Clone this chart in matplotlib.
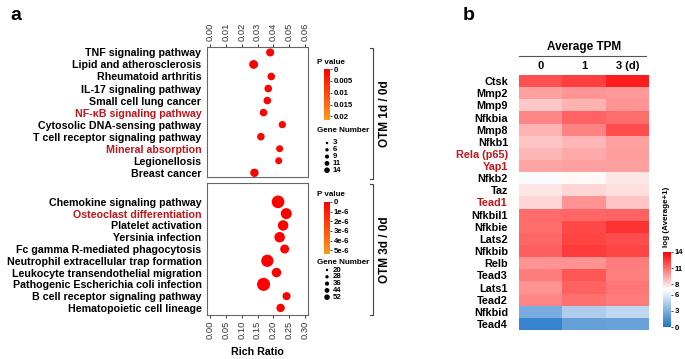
import numpy as np
import matplotlib.pyplot as plt
from matplotlib.colors import LinearSegmentedColormap, Normalize
import matplotlib as mpl

plt.rcParams['font.family'] = ['Liberation Sans', 'DejaVu Sans']
plt.rcParams['font.weight'] = 'bold'

RED_TXT = '#c3151c'

# --- panel a: KEGG enrichment, OTM 1d / 0d ---
top_terms = ['TNF signaling pathway', 'Lipid and atherosclerosis', 'Rheumatoid arthritis',
             'IL-17 signaling pathway', 'Small cell lung cancer', 'NF-κB signaling pathway',
             'Cytosolic DNA-sensing pathway', 'T cell receptor signaling pathway',
             'Mineral absorption', 'Legionellosis', 'Breast cancer']
top_ratio = [0.038, 0.0275, 0.0387, 0.0368, 0.0362, 0.0338, 0.0457, 0.0321, 0.0440, 0.0434, 0.0280]
top_genes = [11, 14, 9, 9, 9, 9, 8, 9, 7, 7, 12]
top_pval = [2e-4, 1e-4, 5e-4, 3e-4, 4e-4, 3e-4, 6e-4, 5e-4, 8e-4, 7e-4, 4e-4]
top_red = ['NF-κB signaling pathway', 'Mineral absorption']
top_p_ticks = [0, 0.005, 0.01, 0.015, 0.02]
top_p_labels = ['0', '0.005', '0.01', '0.015', '0.02']
top_gene_legend = [3, 6, 9, 11, 14]

# --- panel a: KEGG enrichment, OTM 3d / 0d ---
bot_terms = ['Chemokine signaling pathway', 'Osteoclast differentiation', 'Platelet activation',
             'Yersinia infection', 'Fc gamma R-mediated phagocytosis',
             'Neutrophil extracellular trap formation', 'Leukocyte transendothelial migration',
             'Pathogenic Escherichia coli infection', 'B cell receptor signaling pathway',
             'Hematopoietic cell lineage']
bot_ratio = [0.215, 0.241, 0.231, 0.220, 0.236, 0.181, 0.210, 0.169, 0.242, 0.223]
bot_genes = [52, 44, 42, 42, 36, 50, 38, 54, 33, 34]
bot_pval = [1e-9, 1e-9, 2e-9, 2e-9, 3e-9, 2e-9, 4e-9, 1e-9, 5e-9, 5e-9]
bot_red = ['Osteoclast differentiation']
bot_p_ticks = [0, 1e-6, 2e-6, 3e-6, 4e-6, 5e-6]
bot_p_labels = ['0', '1e-6', '2e-6', '3e-6', '4e-6', '5e-6']
bot_gene_legend = [20, 28, 36, 44, 52]

# --- panel b: heatmap log(Average TPM + 1) ---
genes = ['Ctsk', 'Mmp2', 'Mmp9', 'Nfkbia', 'Mmp8', 'Nfkb1', 'Rela (p65)', 'Yap1', 'Nfkb2',
         'Taz', 'Tead1', 'Nfkbil1', 'Nfkbie', 'Lats2', 'Nfkbib', 'Relb', 'Tead3', 'Lats1',
         'Tead2', 'Nfkbid', 'Tead4']
days = ['0', '1', '3 (d)']
day0 = [11.8, 9.6, 8.5, 10.3, 9.1, 8.6, 9.0, 9.5, 6.8, 7.7, 8.1, 11.0, 11.0, 11.2, 11.4,
        10.0, 10.6, 10.0, 10.3, 2.8, 0.8]
day1 = [12.3, 9.9, 9.1, 11.3, 10.4, 9.0, 9.3, 9.6, 7.2, 8.1, 10.0, 11.2, 12.0, 12.1, 12.4,
        10.0, 11.6, 11.3, 10.9, 4.5, 2.2]
day3 = [13.2, 9.8, 9.9, 11.0, 11.9, 9.6, 9.7, 9.6, 7.7, 7.9, 8.6, 11.3, 12.6, 11.9, 12.1,
        10.6, 10.5, 10.8, 10.6, 5.0, 2.3]
heat_red = ['Rela (p65)', 'Yap1', 'Tead1']
heat_ticks = [0, 3, 6, 8, 11, 14]

W, H = 685, 359
fig = plt.figure(figsize=(W / 100, H / 100), dpi=100)

def frac(x0, y0, x1, y1):
    return [x0 / W, 1 - y1 / H, (x1 - x0) / W, (y1 - y0) / H]

# overlay in pixel coordinates for annotations
ov = fig.add_axes([0, 0, 1, 1])
ov.set_xlim(0, W)
ov.set_ylim(H, 0)
ov.axis('off')

p_cmap = LinearSegmentedColormap.from_list('pv', ['#ff0000', '#ff9a1c'])

def dot_panel(rect, terms, ratio, genes_n, pval, red, xmax, xticks, pmax, size_fn, on_top):
    ax = fig.add_axes(rect)
    y = np.arange(len(terms))
    ax.scatter(ratio, y, s=[size_fn(g) for g in genes_n], c=pval, cmap=p_cmap,
               vmin=0, vmax=pmax, edgecolors='none', zorder=3)
    ax.set_xlim(-0.002 * xmax / 0.06, xmax)
    ax.set_yticks(y)
    ax.set_yticklabels(terms, fontsize=7.7)
    for lab in ax.get_yticklabels():
        if lab.get_text() in red:
            lab.set_color(RED_TXT)
    ax.tick_params(axis='y', length=0, pad=4)
    ax.set_xticks(xticks)
    ax.set_xticklabels([f'{t:.2f}' for t in xticks], rotation=90, fontsize=6.7,
                       fontweight='normal')
    if on_top:
        ax.xaxis.tick_top()
    ax.tick_params(axis='x', length=2.5, width=0.7, pad=1.5, colors='#333333')
    for sp in ax.spines.values():
        sp.set_color('#666666')
        sp.set_linewidth(0.8)
    return ax

ax1 = dot_panel(frac(207, 47, 308, 177), top_terms, top_ratio, top_genes, top_pval, top_red,
                0.062, np.arange(0, 0.061, 0.01), 0.0215, lambda g: 10 + 2.2 * g, True)
ax1.set_ylim(10.35, -0.45)

ax2 = dot_panel(frac(207, 183, 308, 315), bot_terms, bot_ratio, bot_genes, bot_pval, bot_red,
                0.31, np.arange(0, 0.301, 0.05), 5.4e-6, lambda g: 2.6 * g - 52, False)
ax2.set_ylim(9.6, -1.6)
ax2.set_xlabel('Rich Ratio', fontsize=7.7, fontweight='bold', labelpad=6)

# P value colour bars
def p_bar(rect, pmax, ticks, labels):
    cax = fig.add_axes(rect)
    cb = mpl.colorbar.ColorbarBase(cax, cmap=p_cmap, norm=Normalize(0, pmax))
    cb.outline.set_visible(False)
    cb.set_ticks(ticks)
    cb.set_ticklabels(labels)
    cax.invert_yaxis()
    cax.tick_params(length=1.5, width=0.5, pad=1, labelsize=5.6)

p_bar(frac(324, 69, 330, 120), 0.0215, top_p_ticks, top_p_labels)
p_bar(frac(324, 202, 330, 254), 5.4e-6, bot_p_ticks, bot_p_labels)

ov.text(317, 63, 'P value', fontsize=5.8, va='center')
ov.text(317, 130, 'Gene Number', fontsize=5.8, va='center')
ov.text(317, 194, 'P value', fontsize=5.8, va='center')
ov.text(317, 262, 'Gene Number', fontsize=5.8, va='center')

def gene_legend(values, y0, sizes):
    for i, (v, s) in enumerate(zip(values, sizes)):
        yy = y0 + i * 6.8
        ov.scatter([327], [yy], s=s, color='black', edgecolors='none')
        ov.text(333, yy, str(v), fontsize=5.6, va='center')

gene_legend(top_gene_legend, 143, [3, 6, 9, 12, 16])
gene_legend(bot_gene_legend, 270, [3, 6, 9, 12, 16])

# brackets with comparison labels
for y0, y1, lab in [(48, 179, 'OTM 1d / 0d'), (184, 315, 'OTM 3d / 0d')]:
    ov.plot([370, 373, 373, 370], [y0, y0, y1, y1], color='#444444', lw=0.8)
    ov.text(385, (y0 + y1) / 2, lab, rotation=90, fontsize=8.5, ha='center', va='center')

# panel letters
ov.text(10, 16, 'a', fontsize=14, va='center')
ov.text(463, 16, 'b', fontsize=14, va='center')

# --- heatmap ---
axh = fig.add_axes(frac(519, 75, 649, 330))
heat_cmap = LinearSegmentedColormap.from_list('hm', [(0, '#1f74c8'), (0.5, '#ffffff'),
                                                     (1, '#ff0000')])
mat = np.column_stack([day0, day1, day3])
mesh = axh.pcolormesh(mat, cmap=heat_cmap, vmin=0, vmax=14, edgecolors='none')
axh.set_ylim(len(genes), 0)
axh.set_yticks(np.arange(len(genes)) + 0.5)
axh.set_yticklabels(genes, fontsize=7.8)
for lab in axh.get_yticklabels():
    if lab.get_text() in heat_red:
        lab.set_color(RED_TXT)
axh.set_xticks(np.arange(3) + 0.5)
axh.set_xticklabels(days, fontsize=8)
axh.xaxis.tick_top()
axh.tick_params(length=0)
axh.tick_params(axis='y', pad=8)
axh.tick_params(axis='x', pad=3)
for sp in axh.spines.values():
    sp.set_visible(False)

ov.text(584, 47, 'Average TPM', fontsize=8.5, ha='center', va='center')
ov.plot([519, 646], [56, 56], color='#555555', lw=0.8)

hcax = fig.add_axes(frac(663, 252, 671, 327))
hcb = fig.colorbar(mesh, cax=hcax, ticks=heat_ticks)
hcb.outline.set_visible(False)
hcax.tick_params(length=1.5, width=0.5, pad=1, labelsize=5.6)
ov.text(667, 217, 'log (Average+1)', rotation=90, fontsize=5.8, ha='center', va='center')

fig.savefig('out.png', dpi=100)
